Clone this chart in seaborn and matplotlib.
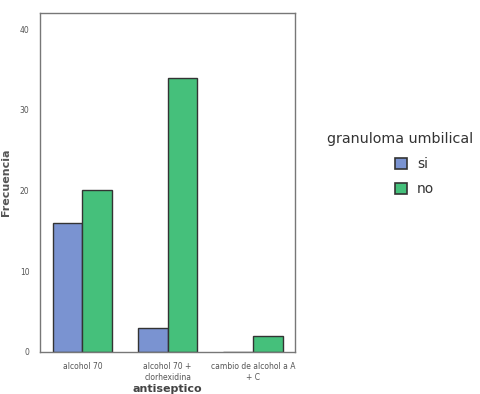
import numpy as np
import pandas as pd
import matplotlib.pyplot as plt
import seaborn as sns
from matplotlib.patches import Patch

sns.set_style('white')

categorias = ['alcohol 70', 'alcohol 70 +\nclorhexidina', 'cambio de alcohol a A\n+ C']
grupos = ['si', 'no']
frec_si = [16, 3, 0]
frec_no = [20, 34, 2]
colores = ['#7a93d1', '#45c07b']

data = pd.DataFrame({
    'antiseptico': categorias * 2,
    'granuloma': ['si'] * 3 + ['no'] * 3,
    'Frecuencia': frec_si + frec_no,
})

fig = plt.figure(figsize=(4.81, 3.94), dpi=100)
ax = fig.add_axes([0.083, 0.107, 0.531, 0.860])
sns.barplot(data=data, x='antiseptico', y='Frecuencia', hue='granuloma',
            hue_order=grupos, palette=colores, saturation=1, width=0.7,
            edgecolor='#333333', linewidth=1.0, ax=ax, legend=False)

ax.set_xlim(-0.5, 2.5)
ax.set_ylim(0, 42)
ax.set_yticks([0, 10, 20, 30, 40])
ax.tick_params(axis='both', direction='out', length=4, width=0.8,
               color='#555555', labelsize=5.5, labelcolor='#555555')
for s in ax.spines.values():
    s.set_color('#777777')
    s.set_linewidth(1.0)
ax.set_ylabel('Frecuencia', fontsize=8, fontweight='bold', color='#555555', labelpad=6)
ax.set_xlabel('antiseptico', fontsize=8, fontweight='bold', color='#444444', labelpad=2)

# legend title drawn apart so the entries can sit under its middle
fig.text(0.679, 0.665, 'granuloma umbilical', va='top', ha='left',
         fontsize=10.3, color='#333333')
handles = [Patch(facecolor=c, edgecolor='#333333', linewidth=1.2) for c in colores]
leg = fig.legend(handles, grupos, loc='upper left',
                 bbox_to_anchor=(0.822, 0.601), frameon=False, fontsize=10,
                 handlelength=0.85, handleheight=0.85, handletextpad=0.7,
                 labelspacing=0.8, borderpad=0, borderaxespad=0)
for t in leg.get_texts():
    t.set_color('#333333')

fig.savefig('out.png', dpi=100)
